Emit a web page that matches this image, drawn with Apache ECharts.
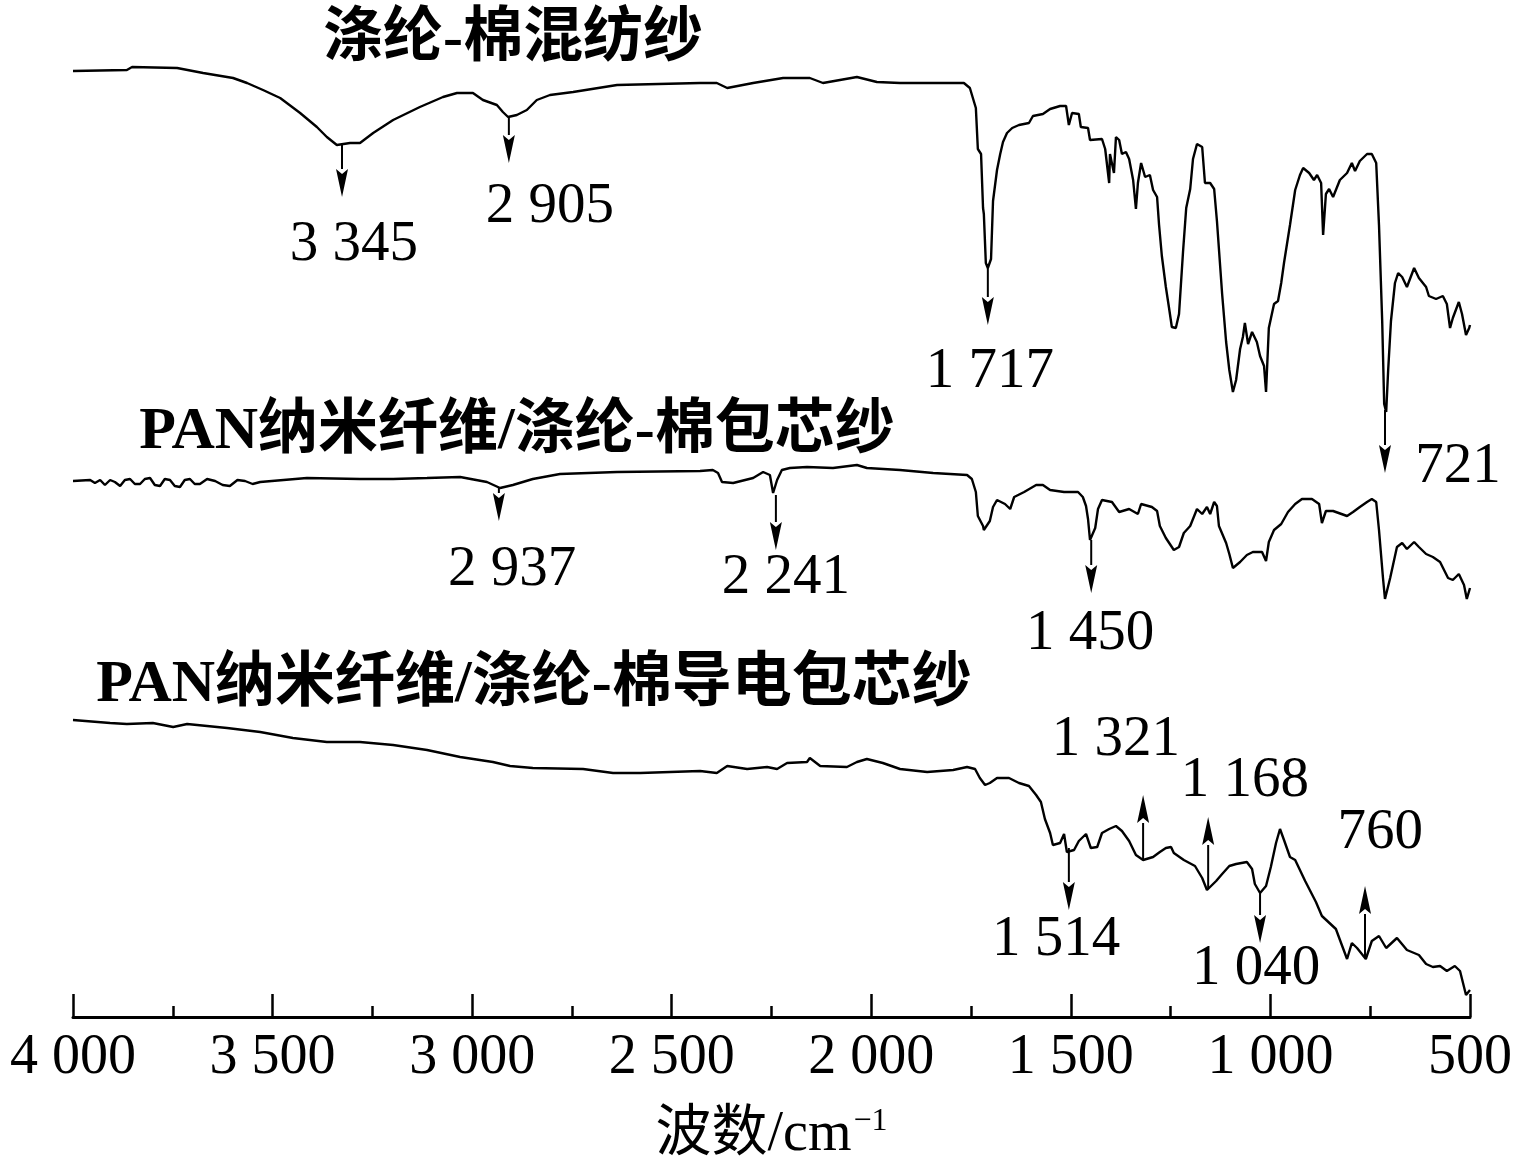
<!DOCTYPE html>
<html>
<head>
<meta charset="utf-8">
<script src="https://cdn.jsdelivr.net/npm/echarts@6/dist/echarts.min.js"></script>
<style>
html,body{margin:0;padding:0;background:#fff;}
#chart{width:1518px;height:1158px;}
</style>
</head>
<body>
<div id="chart"></div>
<script>
// ---- Data (wavenumber cm^-1, relative transmittance, curves offset) ----
const wn1 = [4000,3865,3852,3739,3674,3599,3564,3524,3481,3431,3389,3364,3339,3306,3281,3248,3198,3131,3073,3038,2998,2973,2938,2923,2910,2888,2863,2838,2805,2747,2637,2429,2387,2361,2296,2221,2154,2121,2036,1986,1928,1845,1768,1753,1738,1733,1725,1720,1718,1713,1708,1700,1695,1685,1677,1670,1660,1647,1630,1605,1595,1570,1552,1527,1512,1505,1497,1480,1475,1457,1452,1422,1414,1404,1402,1392,1387,1379,1372,1362,1354,1344,1337,1332,1324,1314,1302,1294,1284,1279,1272,1262,1254,1247,1237,1229,1219,1211,1201,1194,1184,1171,1164,1151,1141,1134,1121,1111,1103,1094,1086,1076,1069,1064,1056,1046,1034,1026,1016,1011,1004,991,981,973,966,951,938,926,918,903,891,883,873,868,861,853,843,826,808,796,788,776,758,746,735,728,720,715,710,705,698,688,680,670,658,640,628,610,603,585,568,558,550,543,528,520,510,502,500];
const t1 = [94.6,94.7,95.0,94.9,94.4,93.9,93.4,92.7,91.9,90.4,89.0,88.0,87.2,87.4,87.4,88.4,89.7,91.0,92.0,92.4,92.4,91.7,91.2,90.5,90.0,90.2,90.7,91.7,92.2,92.5,93.2,93.4,93.4,92.9,93.4,93.9,93.9,93.4,94.0,93.5,93.4,93.4,93.4,92.9,90.9,86.8,86.3,80.9,80.3,75.4,74.9,75.8,81.6,84.7,86.3,87.5,88.4,88.9,89.2,89.4,90.1,90.3,90.8,91.1,91.1,89.2,90.4,90.3,89.0,88.9,87.7,87.8,86.8,83.4,86.3,84.4,88.0,87.7,86.3,86.5,85.8,83.7,80.8,83.4,85.4,84.0,84.2,82.7,82.0,79.2,76.1,73.0,70.9,69.0,68.9,70.3,76.5,80.9,82.8,85.8,87.3,87.0,83.4,83.4,82.8,79.6,72.3,67.5,64.7,62.5,63.7,66.8,68.0,69.4,67.3,68.5,67.5,66.1,65.1,62.5,68.9,71.3,71.6,73.4,75.4,79.2,82.7,84.2,84.9,84.4,83.7,84.2,83.4,78.2,82.3,82.8,82.0,83.7,84.4,85.4,84.6,85.6,86.3,86.3,85.4,79.2,69.6,61.3,60.5,64.7,69.6,73.4,74.4,74.0,73.0,74.9,73.9,73.0,72.1,71.8,72.1,71.3,68.9,69.9,71.5,70.3,68.2,68.9,69.2];

const wn2 = [4000,3957,3945,3932,3920,3907,3895,3882,3870,3857,3845,3832,3820,3807,3795,3782,3770,3757,3745,3732,3720,3707,3695,3682,3664,3644,3625,3607,3588,3569,3550,3531,3414,3281,3198,3113,3030,2963,2930,2898,2848,2780,2637,2429,2397,2384,2374,2346,2296,2271,2254,2246,2241,2236,2224,2204,2161,2096,2036,2011,1928,1845,1760,1748,1738,1733,1720,1718,1703,1695,1685,1665,1652,1642,1617,1587,1570,1552,1517,1482,1470,1462,1457,1452,1447,1439,1432,1422,1397,1379,1354,1332,1324,1297,1284,1277,1262,1242,1229,1217,1201,1184,1171,1159,1151,1141,1134,1129,1111,1103,1094,1076,1059,1044,1021,1011,1004,991,973,956,938,921,896,878,871,861,843,808,793,776,758,746,735,728,718,713,700,683,670,658,640,628,610,593,575,555,543,528,515,508,500];
const t2 = [53.6,53.7,53.4,53.7,53.2,53.7,53.5,53.1,53.7,53.8,53.3,53.3,53.8,53.9,53.2,53.1,53.8,53.7,53.1,53.0,53.7,53.8,53.3,53.3,53.8,53.6,53.2,53.1,53.7,53.6,53.3,53.5,53.9,53.8,53.8,53.9,54.0,53.5,52.9,53.2,53.8,54.3,54.5,54.6,54.7,54.4,53.5,53.4,53.9,54.5,54.2,52.4,52.2,53.7,54.7,54.9,55.0,54.9,55.2,54.9,54.7,54.4,54.2,53.8,52.5,50.1,49.1,48.7,49.6,51.0,51.7,51.3,50.8,52.0,52.5,53.2,53.2,52.7,52.5,52.5,52.0,51.1,49.8,47.7,47.7,48.9,50.8,51.7,51.5,50.5,50.8,50.3,51.3,51.0,50.6,49.1,47.9,46.7,47.0,48.4,49.1,50.8,50.3,51.0,50.3,51.5,51.1,49.1,47.4,46.3,44.9,45.5,46.2,46.5,46.5,45.6,47.5,48.7,49.3,50.5,51.3,51.8,51.8,51.3,49.4,50.6,50.6,50.1,50.5,51.0,51.5,51.8,51.5,48.7,43.9,41.8,43.9,47.0,47.4,46.8,47.5,47.0,46.3,46.0,45.5,43.9,43.7,44.3,43.2,41.8,42.9];

const wn3 = [4000,3907,3865,3800,3749,3714,3664,3614,3531,3449,3364,3281,3198,3113,3030,2948,2905,2848,2722,2647,2579,2429,2387,2361,2311,2261,2236,2211,2161,2154,2128,2061,2036,2011,1971,1928,1860,1795,1760,1740,1728,1715,1703,1685,1655,1630,1605,1587,1575,1565,1552,1545,1527,1517,1510,1492,1480,1462,1450,1434,1422,1404,1387,1372,1354,1337,1319,1294,1277,1262,1249,1242,1217,1189,1171,1159,1136,1121,1103,1086,1059,1046,1039,1026,1011,999,986,976,966,951,938,913,886,871,836,823,808,796,783,761,746,728,710,683,658,628,610,593,575,558,538,525,510,500];
const t3 = [29.7,29.4,29.3,29.4,29.0,29.3,29.1,28.9,28.5,27.9,27.5,27.5,27.2,26.7,26.0,25.5,25.1,24.9,24.8,24.4,24.4,24.6,24.4,25.1,24.8,25.0,24.8,25.4,25.5,25.9,25.1,25.0,25.5,25.8,25.4,24.8,24.5,24.7,25.0,24.8,23.9,23.2,23.4,23.9,23.9,23.4,23.1,22.2,21.5,19.8,18.4,17.2,17.4,18.3,16.5,16.7,17.6,18.3,16.9,17.0,18.4,18.8,19.1,18.6,17.6,16.2,15.7,16.0,16.5,16.9,17.0,16.4,15.7,15.1,13.9,12.7,13.6,14.3,15.1,15.3,15.5,14.8,13.3,12.4,13.1,15.0,17.4,18.8,17.7,16.0,15.7,13.6,11.5,10.1,8.8,7.4,5.8,7.4,6.9,5.8,7.6,8.1,6.9,7.9,6.7,6.2,5.3,5.0,5.1,4.6,5.1,4.6,2.2,2.7];

// Curve titles
const curveNames = ['涤纶-棉混纺纱', 'PAN纳米纤维/涤纶-棉包芯纱', 'PAN纳米纤维/涤纶-棉导电包芯纱'];

// Peak annotations: [arrow wavenumber, arrow start value, arrow tip value]
const arrows = [
  [3326, 87.2, 82.0], [2908, 90.0, 85.4], [1708, 74.9, 69.2], [713, 60.7, 54.4],
  [2933, 52.9, 49.6], [2239, 52.2, 46.7], [1449, 47.7, 42.4],
  [1505, 16.9, 10.7], [1319, 15.8, 22.2], [1156, 12.9, 20.0], [1026, 12.4, 7.4], [763, 5.9, 13.1]
];
// Peak labels: [wavenumber, value, text]
const peakLabels = [
  [3296, 77.2, '3 345'], [2805, 81.0, '2 905'], [1703, 64.5, '1 717'], [530, 55.0, '721'],
  [2900, 44.7, '2 937'], [2214, 43.9, '2 241'], [1452, 38.3, '1 450'],
  [1537, 7.7, '1 514'], [1387, 27.7, '1 321'], [1064, 23.6, '1 168'], [1036, 4.8, '1 040'], [725, 18.4, '760']
];
const xTicks = {min: 500, max: 4000, interval: 500};

function pairs(xs, ys) { return xs.map((x, i) => [x, ys[i]]); }
function fmt(v) {
  if (v >= 1000) { const r = String(v % 1000).padStart(3, '0'); return Math.floor(v / 1000) + ' ' + r; }
  return String(v);
}

const serif = '"Liberation Serif", "Times New Roman", serif';
const mixed = '"Liberation Serif", "Noto Sans CJK SC", serif';

const chart = echarts.init(document.getElementById('chart'), null, {renderer: 'canvas'});

const lineSeries = [pairs(wn1, t1), pairs(wn2, t2), pairs(wn3, t3)].map(d => ({
  type: 'line', data: d, showSymbol: false, symbol: 'none', animation: false,
  lineStyle: {color: '#000', width: 2.4}, z: 3
}));

const titleStyle = (t) => ({text: t, fontSize: 60, fontFamily: mixed, fontWeight: 'bold', fill: '#000', align: 'center', verticalAlign: 'middle'});

const option = {
  backgroundColor: '#fff',
  animation: false,
  grid: {left: 73, right: 48, top: 17, bottom: 141, containLabel: false, outerBoundsMode: 'none'},
  xAxis: {
    type: 'value', inverse: true, min: xTicks.min, max: xTicks.max, interval: xTicks.interval,
    name: '波数/cm{sup|−1}', nameLocation: 'middle', nameGap: 89,
    nameTextStyle: {color: '#000', fontSize: 56, fontFamily: mixed,
      rich: {sup: {fontSize: 32, fontFamily: serif, color: '#000', padding: [0, 0, 26, 2]}}},
    axisLine: {show: true, lineStyle: {color: '#000', width: 3}},
    axisTick: {show: true, inside: true, length: 23, lineStyle: {color: '#000', width: 2.5}},
    minorTick: {show: true, splitNumber: 2, length: 11, lineStyle: {color: '#000', width: 2.5}},
    splitLine: {show: false}, minorSplitLine: {show: false},
    axisLabel: {color: '#000', fontSize: 56, fontFamily: serif, margin: 13, formatter: fmt,
      showMinLabel: true, showMaxLabel: true}
  },
  yAxis: {type: 'value', min: 0, max: 100, show: false},
  graphic: [
    {type: 'text', x: 513, y: 40, style: titleStyle(curveNames[0])},
    {type: 'text', x: 517, y: 432, style: titleStyle(curveNames[1])},
    {type: 'text', x: 534, y: 685, style: titleStyle(curveNames[2])}
  ],
  series: lineSeries.concat([
    {
      type: 'custom', data: arrows, z: 4, animation: false, silent: true,
      encode: {x: 0, y: [1, 2]},
      renderItem: function (params, api) {
        const p1 = api.coord([api.value(0), api.value(1)]);
        const p2 = api.coord([api.value(0), api.value(2)]);
        const dir = p2[1] > p1[1] ? 1 : -1;
        const headLen = 28, headHalf = 6;
        const base = [p2[0], p2[1] - dir * headLen];
        return {
          type: 'group',
          children: [
            {type: 'line', shape: {x1: p1[0], y1: p1[1], x2: base[0], y2: base[1]}, style: {stroke: '#000', lineWidth: 2}},
            {type: 'polygon', shape: {points: [[p2[0], p2[1]], [base[0] - headHalf, base[1]], [base[0], base[1] + dir * 5], [base[0] + headHalf, base[1]]]}, style: {fill: '#000'}}
          ]
        };
      }
    },
    {
      type: 'custom', data: peakLabels, z: 5, animation: false, silent: true,
      encode: {x: 0, y: 1},
      renderItem: function (params, api) {
        const p = api.coord([api.value(0), api.value(1)]);
        return {
          type: 'text', x: p[0], y: p[1],
          style: {text: peakLabels[params.dataIndex][2], fill: '#000', fontSize: 57, fontFamily: serif, align: 'center', verticalAlign: 'middle'}
        };
      }
    }
  ])
};
chart.setOption(option);
</script>
</body>
</html>
